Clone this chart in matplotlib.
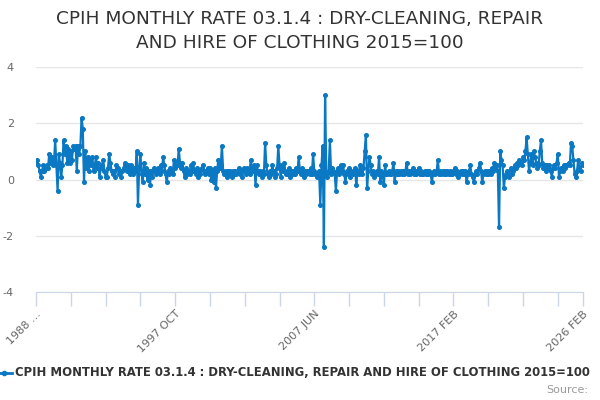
import numpy as np
import pandas as pd
import matplotlib
matplotlib.use('Agg')
import matplotlib.pyplot as plt
from matplotlib.lines import Line2D

# Monthly rate (%), Feb 1988 .. Feb 2026
rate_1988_1995 = [
    0.6, 0.7, 0.5, 0.3, 0.1, 0.3, 0.5, 0.3, 0.4, 0.5, 0.4,          # 1988 (from Feb)
    0.9, 0.6, 0.8, 0.5, 0.6, 1.4, 0.5, -0.4, 0.9, 0.6, 0.1, 0.5,    # 1989
    1.4, 0.9, 1.2, 0.6, 1.1, 0.6, 1.0, 0.7, 1.2, 1.1, 1.2, 0.3,     # 1990
    1.2, 0.9, 1.2, 2.2, 1.8, -0.1, 1.0, 0.4, 0.8, 0.3, 0.7, 0.5,    # 1991
    0.8, 0.3, 0.5, 0.8, 0.4, 0.6, 0.1, 0.4, 0.5, 0.7, 0.3, 0.1,     # 1992
    0.1, 0.4, 0.9, 0.6, 0.3, 0.2, 0.3, 0.1, 0.5, 0.4, 0.2, 0.3,     # 1993
    0.1, 0.3, 0.4, 0.6, 0.5, 0.3, 0.5, 0.2, 0.5, 0.3, 0.2, 0.4,     # 1994
    0.3, 1.0, -0.9, 0.4, 0.9, 0.2, -0.1, 0.6, 0.2, 0.4, 0.0, 0.3,   # 1995
]
rate_1996_2005 = [
    -0.2, 0.3, 0.1, 0.4, 0.3, 0.2, 0.3, 0.4, 0.2, 0.5, 0.3, 0.8,    # 1996
    0.5, 0.2, -0.1, 0.3, 0.2, 0.4, 0.3, 0.2, 0.7, 0.4, 0.6, 0.5,    # 1997
    1.1, 0.6, 0.4, 0.6, 0.3, 0.1, 0.4, 0.2, 0.3, 0.2, 0.5, 0.3,     # 1998
    0.6, 0.3, 0.2, 0.4, 0.1, 0.3, 0.2, 0.4, 0.5, 0.3, 0.2, 0.3,     # 1999
    0.4, 0.2, 0.4, 0.0, 0.3, -0.1, 0.4, -0.3, 0.3, 0.7, 0.4, 0.5,   # 2000
    1.2, 0.3, 0.2, 0.3, 0.1, 0.3, 0.2, 0.3, 0.1, 0.3, 0.2, 0.3,     # 2001
    0.2, 0.3, 0.4, 0.2, 0.3, 0.1, 0.4, 0.3, 0.2, 0.4, 0.3, 0.2,     # 2002
    0.7, 0.4, 0.3, 0.5, -0.2, 0.5, 0.3, 0.2, 0.3, 0.1, 0.3, 0.2,    # 2003
    1.3, 0.5, 0.2, 0.1, 0.3, 0.2, 0.5, 0.3, 0.1, 0.2, 0.4, 1.2,     # 2004
    0.5, 0.1, 0.4, 0.3, 0.6, 0.2, 0.3, 0.2, 0.4, 0.1, 0.3, 0.2,     # 2005
]
rate_2006_2015 = [
    0.3, 0.2, 0.4, 0.3, 0.8, 0.3, 0.2, 0.4, 0.1, 0.3, 0.2, 0.3,     # 2006
    0.3, 0.2, 0.4, 0.2, 0.9, 0.3, 0.2, 0.1, 0.2, 0.3, -0.9, 0.5,    # 2007
    1.2, -2.4, 3.0, 0.2, 0.1, 0.3, 1.4, 0.2, 0.4, 0.3, 0.2, -0.4,   # 2008
    0.3, 0.4, 0.2, 0.5, 0.3, 0.5, 0.2, -0.1, 0.3, 0.2, 0.4, 0.1,    # 2009
    0.3, 0.2, 0.3, 0.4, -0.2, 0.3, 0.2, 0.5, 0.3, 0.2, 0.4, 1.0,    # 2010
    1.6, -0.3, 0.3, 0.8, 0.5, 0.2, 0.3, 0.1, 0.2, 0.3, 0.2, 0.8,    # 2011
    -0.1, 0.3, 0.2, -0.2, 0.5, 0.2, 0.2, 0.3, 0.2, 0.2, 0.3, 0.6,   # 2012
    -0.1, 0.3, 0.2, 0.3, 0.2, 0.3, 0.2, 0.3, 0.2, 0.3, 0.6, 0.2,    # 2013
    0.3, 0.2, 0.3, 0.4, 0.2, 0.3, 0.2, 0.3, 0.4, 0.2, 0.3, 0.2,     # 2014
    0.2, 0.3, 0.2, 0.3, 0.2, 0.3, 0.2, -0.1, 0.2, 0.3, 0.2, 0.3,    # 2015
]
rate_2016_2026 = [
    0.7, 0.2, 0.3, 0.2, 0.3, 0.2, 0.3, 0.2, 0.3, 0.2, 0.3, 0.2,     # 2016
    0.2, 0.3, 0.4, 0.2, 0.3, 0.1, 0.2, 0.3, 0.2, 0.3, 0.2, 0.3,     # 2017
    -0.1, 0.2, 0.3, 0.5, 0.2, 0.1, -0.1, 0.2, 0.3, 0.2, 0.4, 0.6,   # 2018
    0.3, -0.1, 0.2, 0.3, 0.2, 0.3, 0.2, 0.3, 0.2, 0.4, 0.3, 0.6,    # 2019
    0.4, 0.5, 0.3, -1.7, 1.0, 0.7, 0.5, -0.3, 0.1, 0.2, 0.3, 0.1,   # 2020
    0.3, 0.4, 0.2, 0.3, 0.5, 0.4, 0.6, 0.5, 0.7, 0.6, 0.5, 0.8,     # 2021
    0.7, 1.0, 1.5, 0.9, 0.3, 0.6, 0.9, 0.5, 1.0, 0.8, 0.6, 0.4,     # 2022
    0.5, 1.0, 1.4, 0.6, 0.4, 0.5, 0.3, 0.5, 0.4, 0.5, 0.3, 0.1,     # 2023
    0.4, 0.5, 0.4, 0.6, 0.9, 0.1, 0.3, 0.4, 0.3, 0.5, 0.4, 0.5,     # 2024
    0.5, 0.6, 0.5, 1.3, 1.2, 0.7, 0.2, 0.1, 0.3, 0.7, 0.4, 0.3,     # 2025
    0.6, 0.5,                                                       # 2026 (to Feb)
]

y_ticks = [-4, -2, 0, 2, 4]
series_name = 'CPIH MONTHLY RATE 03.1.4 : DRY-CLEANING, REPAIR AND HIRE OF CLOTHING 2015=100'

BLUE = '#0b78c3'

rates = rate_1988_1995 + rate_1996_2005 + rate_2006_2015 + rate_2016_2026
months = pd.date_range('1988-02-01', periods=len(rates), freq='MS')
x = np.arange(len(rates))

fig = plt.figure(figsize=(6, 4), dpi=100)
ax = fig.add_axes([36/600, 1-292/400, 547/600, 225/400])

ax.plot(x, rates, color=BLUE, linewidth=1.6, marker='o', markersize=2.6, zorder=3)

ax.set_xlim(0, len(rates)-1)
ax.set_ylim(-4, 4)
ax.set_yticks(y_ticks)
ax.set_yticklabels([str(t) for t in y_ticks])
ax.grid(axis='y', color='#e6e6e6', linewidth=1)
ax.set_axisbelow(True)

for s in ['top', 'right', 'left']:
    ax.spines[s].set_visible(False)
ax.spines['bottom'].set_color('#ccd6eb')
ax.tick_params(axis='x', colors='#ccd6eb', length=10, width=1, labelcolor='#666666', labelsize=8, pad=2)
ax.tick_params(axis='y', length=0, labelcolor='#666666', labelsize=8, pad=16)

# category axis: tick every 29 months, label every 4th, plus the last month
tick_pos = list(range(0, len(rates), 29)) + [len(rates)-1]
labels = []
for p in tick_pos:
    if p == 0:
        labels.append('1988 …')
    elif p % 116 == 0 or p == len(rates)-1:
        d = months[p]
        labels.append('{} {}'.format(d.year, d.strftime('%b').upper()))
    else:
        labels.append('')
ax.set_xticks(tick_pos)
ax.set_xticklabels(labels)
for lbl in ax.get_xticklabels():
    lbl.set_rotation(45)
    lbl.set_ha('right')
    lbl.set_rotation_mode('anchor')

fig.text(0.5, 1-31/400, 'CPIH MONTHLY RATE 03.1.4 : DRY-CLEANING, REPAIR\nAND HIRE OF CLOTHING 2015=100',
         ha='center', va='center', fontsize=13.3, color='#333333', linespacing=1.5)

# legend drawn by hand, bottom left
fig.add_artist(Line2D([-2/600, 12/600], [1-373/400, 1-373/400], color=BLUE, linewidth=2,
                      transform=fig.transFigure))
fig.add_artist(Line2D([4/600], [1-373/400], color=BLUE, marker='o', markersize=3,
                      transform=fig.transFigure))
fig.text(15/600, 1-373/400, series_name, ha='left', va='center', fontsize=8.4,
         fontweight='bold', color='#333333')
fig.text(588/600, 1-390/400, 'Source:', ha='right', va='center', fontsize=8, color='#999999')

fig.savefig('out.png', dpi=100)
